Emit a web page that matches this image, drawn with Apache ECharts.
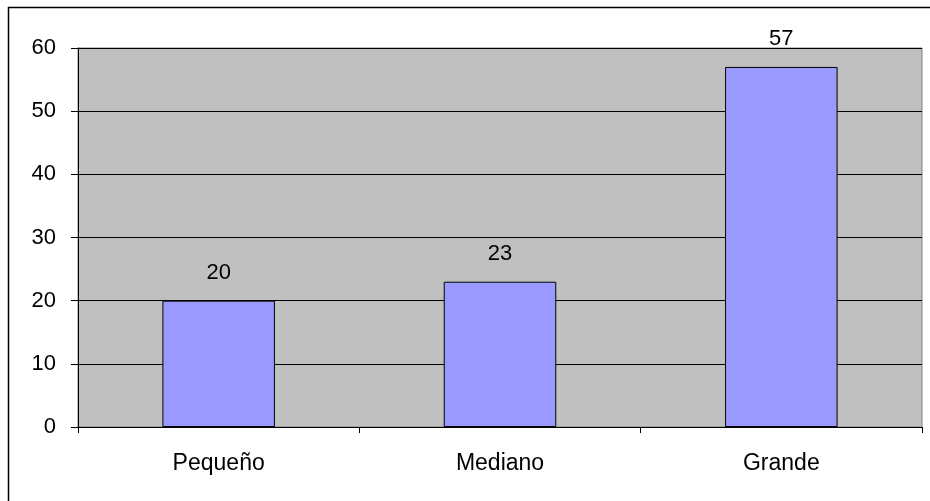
<!DOCTYPE html>
<html>
<head>
<meta charset="utf-8">
<style>
  html, body { margin: 0; padding: 0; background: #fff; }
  #chart { width: 930px; height: 501px; }
</style>
<script src="https://cdn.jsdelivr.net/npm/echarts@6/dist/echarts.min.js"></script>
</head>
<body>
<div id="chart"></div>
<script>
// Size categories and their counts
const categories = ['Pequeño', 'Mediano', 'Grande'];
const counts = [20, 23, 57];
const yTicks = { min: 0, max: 60, interval: 10 };

const chart = echarts.init(document.getElementById('chart'), null, { renderer: 'canvas' });

const font = 'Arial, "Liberation Sans", sans-serif';

chart.setOption({
  animation: false,
  backgroundColor: '#ffffff',
  graphic: [{
    type: 'rect',
    shape: { x: 8.5, y: 7.5, width: 1200, height: 1200 },
    style: { fill: 'none', stroke: '#000', lineWidth: 1.5 },
    silent: true
  }],
  grid: {
    left: 78, top: 48, right: 8, bottom: 74,
    show: true,
    backgroundColor: '#C0C0C0',
    borderColor: '#808080',
    borderWidth: 1
  },
  xAxis: {
    type: 'category',
    data: categories,
    axisLine: { show: true, lineStyle: { color: '#000', width: 1 } },
    axisTick: { show: true, length: 6, alignWithLabel: false, lineStyle: { color: '#000' } },
    axisLabel: { color: '#000', fontSize: 23, fontFamily: font, margin: 25 },
    splitLine: { show: false }
  },
  yAxis: {
    type: 'value',
    min: yTicks.min, max: yTicks.max, interval: yTicks.interval,
    axisLine: { show: true, lineStyle: { color: '#000', width: 1 } },
    axisTick: { show: true, length: 7, lineStyle: { color: '#000' } },
    axisLabel: { color: '#000', fontSize: 22, fontFamily: font, margin: 22 },
    splitLine: { show: true, lineStyle: { color: '#000', width: 1 } }
  },
  series: [{
    type: 'bar',
    data: counts,
    barWidth: '40%',
    itemStyle: { color: '#9999FF', borderColor: '#000', borderWidth: 1 },
    label: {
      show: true, position: 'top', distance: 17,
      color: '#000', fontSize: 22, fontFamily: font
    }
  }]
});
</script>
</body>
</html>
